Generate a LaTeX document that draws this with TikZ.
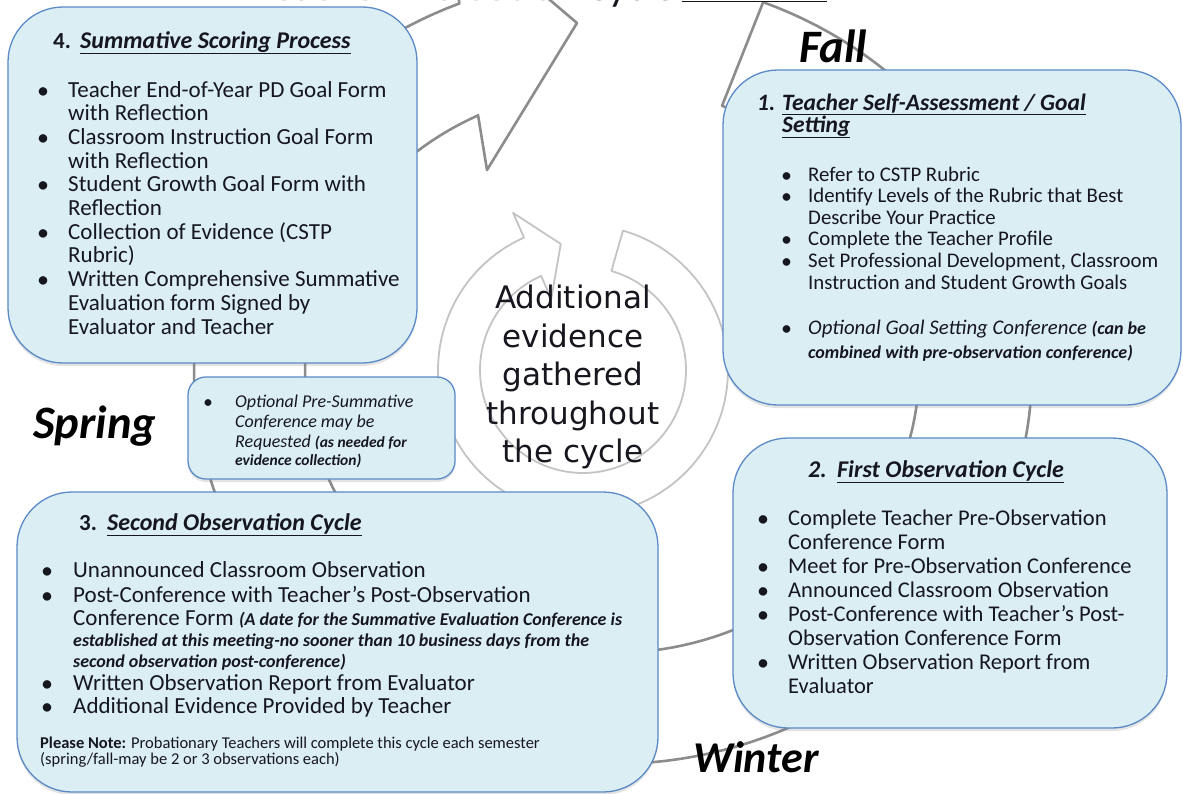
\documentclass[tikz,border=0pt]{standalone}
\usepackage{fontspec}
\setmainfont{Carlito}
\newfontfamily\dejavu{DejaVu Sans}
\usetikzlibrary{shadows}
\definecolor{boxfill}{HTML}{DBEEF4}
\definecolor{boxline}{HTML}{5B8AC6}
\definecolor{bandline}{HTML}{8C8C8C}
\definecolor{ringline}{HTML}{C4C4C4}
\definecolor{txt}{HTML}{16161E}
\newcommand\smbi[1]{{\fontsize{18}{18}\selectfont\bfseries\itshape #1}}
\newcommand\smbs[1]{{\fontsize{15.5}{15.5}\selectfont\bfseries\itshape #1}}
\tikzset{
  box/.style={draw=boxline, line width=1.3pt, fill=boxfill, inner sep=0pt,
    drop shadow={opacity=0.22, shadow xshift=0pt, shadow yshift=-3pt}},
  band/.style={draw=bandline, line width=2.6pt, fill=white, line join=round},
  ring/.style={draw=ringline, line width=1.8pt, fill=white, line join=round},
  tx/.style={anchor=base west, inner sep=0pt, text=txt},
  f23/.style={tx, font=\fontsize{23}{23}\selectfont},
  f22/.style={tx, font=\fontsize{22.5}{22.5}\selectfont},
  f19/.style={tx, font=\fontsize{20.8}{20.8}\selectfont},
  fi17/.style={tx, font=\fontsize{18}{18}\selectfont\itshape},
  fnote/.style={tx, font=\fontsize{16.5}{16.5}\selectfont},
  ttl/.style={tx, font=\fontsize{24}{24}\selectfont\bfseries\itshape},
  num/.style={tx, font=\fontsize{23}{23}\selectfont\bfseries},
  bul/.style={tx, font=\fontsize{20}{20}\selectfont\bfseries},
  season/.style={anchor=base west, inner sep=0pt, text=black, font=\fontsize{46.5}{46.5}\selectfont\bfseries\itshape},
}
\begin{document}
\begin{tikzpicture}[x=1pt,y=-1pt]
\useasboundingbox (0,0) rectangle (1183,793);
\fill[white] (0,0) rectangle (1183,793);

% big circular band arrow
\draw[band] plot[domain=-69:248.5, samples=160, variable=\t] ({613+419*cos(\t)},{370+394*sin(\t)})
  -- (444,-90) -- (577,23) -- (487,170) -- (478,115)
  -- plot[domain=0:313, samples=160, variable=\t] ({612+307*cos(244-\t)},{370+283*sin(244-\t)}) -- cycle;

% central ring arrow
\draw[ring] plot[domain=-74:246, samples=120, variable=\t] ({583+145*cos(\t)},{370+145*sin(\t)})
  -- ({583+172*cos(246)},{370+172*sin(246)})
  -- ({583+128*cos(260)},{370+128*sin(260)})
  -- ({583+78*cos(246)},{370+78*sin(246)})
  -- plot[domain=0:320, samples=120, variable=\t] ({583+103*cos(246-\t)},{370+103*sin(246-\t)}) -- cycle;

% title (cut off at top)
\node[anchor=base west, inner sep=0pt, font=\fontsize{42}{42}\selectfont] (title) at (257,0)
  {\textcolor{gray}{Teacher Evaluation} \textcolor{txt}{Cycle}\hspace{6pt}\textcolor{txt}{\underline{\hspace{145pt}}}};

% boxes
\node[box, rounded corners=55pt, minimum width=409pt, minimum height=356pt] (b4) at (212.5,185) {};
\node[box, rounded corners=55pt, minimum width=458pt, minimum height=335pt] (b1) at (952,237.5) {};
\node[box, rounded corners=18pt, minimum width=267pt, minimum height=102pt] (bs) at (321.5,428) {};
\node[box, rounded corners=55pt, minimum width=434pt, minimum height=290pt] (b2) at (950,583) {};
\node[box, rounded corners=55pt, minimum width=641pt, minimum height=300pt] (b3) at (337.5,642) {};

% center text
\node[align=center, inner sep=0pt, text=txt, font=\dejavu\fontsize{31}{38.5}\selectfont] (center) at (573,377)
  {Additional\\evidence\\gathered\\throughout\\the cycle};

% seasons
\node[season] (fall) at (799,62) {Fall};
\node[season] (spring) at (33,438) {Spring};
\node[season, font=\fontsize{44}{44}\selectfont\bfseries\itshape] (winter) at (693,772) {Winter};

% box 4
\node[num] (b4n) at (53,48) {4.};
\node[ttl] (b4t) at (80,48) {\underline{Summative Scoring Process}};
\node[bul] (b4d1) at (38,97) {•};
\node[bul] (b4d2) at (38,144.4) {•};
\node[bul] (b4d3) at (38,191.8) {•};
\node[bul] (b4d4) at (38,239.2) {•};
\node[bul] (b4d5) at (38,286.6) {•};
\node[f23] (b4l1) at (68,97) {Teacher End-of-Year PD Goal Form};
\node[f23] (b4l2) at (68,120.7) {with Reflection};
\node[f23] (b4l3) at (68,144.4) {Classroom Instruction Goal Form};
\node[f23] (b4l4) at (68,168.1) {with Reflection};
\node[f23] (b4l5) at (68,191.8) {Student Growth Goal Form with};
\node[f23] (b4l6) at (68,215.5) {Reflection};
\node[f23] (b4l7) at (68,239.2) {Collection of Evidence (CSTP};
\node[f23] (b4l8) at (68,262.9) {Rubric)};
\node[f23] (b4l9) at (68,286.6) {Written Comprehensive Summative};
\node[f23] (b4l10) at (68,310.3) {Evaluation form Signed by};
\node[f23] (b4l11) at (68,334) {Evaluator and Teacher};

% box 1
\node[num, font=\fontsize{23.5}{23.5}\selectfont\bfseries\itshape] (b1n) at (757,110) {1.};
\node[ttl, font=\fontsize{23.5}{23.5}\selectfont\bfseries\itshape] (b1t) at (782,110) {\underline{Teacher Self-Assessment / Goal}};
\node[ttl, font=\fontsize{23.5}{23.5}\selectfont\bfseries\itshape] (b1t2) at (782,132) {\underline{Setting}};
\node[bul, font=\fontsize{18}{18}\selectfont\bfseries] (b1d1) at (782,181) {•};
\node[bul, font=\fontsize{18}{18}\selectfont\bfseries] (b1d2) at (782,202.6) {•};
\node[bul, font=\fontsize{18}{18}\selectfont\bfseries] (b1d3) at (782,245.8) {•};
\node[bul, font=\fontsize{18}{18}\selectfont\bfseries] (b1d4) at (782,267.4) {•};
\node[bul, font=\fontsize{18}{18}\selectfont\bfseries] (b1d5) at (782,334) {•};
\node[f19] (b1l1) at (808,181) {Refer to CSTP Rubric};
\node[f19] (b1l2) at (808,202.6) {Identify Levels of the Rubric that Best};
\node[f19] (b1l3) at (808,224.2) {Describe Your Practice};
\node[f19] (b1l4) at (808,245.8) {Complete the Teacher Profile};
\node[f19] (b1l5) at (808,267.4) {Set Professional Development, Classroom};
\node[f19] (b1l6) at (808,289) {Instruction and Student Growth Goals};
\node[f19] (b1l7) at (808,334) {\textit{Optional Goal Setting Conference} \smbi{(can be}};
\node[f19] (b1l8) at (808,358) {\smbi{combined with pre-observation conference)}};

% spring box
\node[bul, font=\fontsize{16}{16}\selectfont\bfseries] (bsd1) at (204,407) {•};
\node[fi17] (bsl1) at (235,407) {Optional Pre-Summative};
\node[fi17] (bsl2) at (235,427) {Conference may be};
\node[fi17] (bsl3) at (235,447) {Requested \smbs{(as needed for}};
\node[fi17] (bsl4) at (235,465) {\smbs{evidence collection)}};

% box 2
\node[num, font=\fontsize{24}{24}\selectfont\bfseries\itshape] (b2n) at (808,477) {2.};
\node[ttl] (b2t) at (837,477) {\underline{First Observation Cycle}};
\node[bul] (b2d1) at (758,525) {•};
\node[bul] (b2d2) at (758,573) {•};
\node[bul] (b2d3) at (758,597) {•};
\node[bul] (b2d4) at (758,621) {•};
\node[bul] (b2d5) at (758,669) {•};
\node[f22] (b2l1) at (788,525) {Complete Teacher Pre-Observation};
\node[f22] (b2l2) at (788,549) {Conference Form};
\node[f22] (b2l3) at (788,573) {Meet for Pre-Observation Conference};
\node[f22] (b2l4) at (788,597) {Announced Classroom Observation};
\node[f22] (b2l5) at (788,621) {Post-Conference with Teacher's Post-};
\node[f22] (b2l6) at (788,645) {Observation Conference Form};
\node[f22] (b2l7) at (788,669) {Written Observation Report from};
\node[f22] (b2l8) at (788,693) {Evaluator};

% box 3
\node[num] (b3n) at (79,530) {3.};
\node[ttl] (b3t) at (107,530) {\underline{Second Observation Cycle}};
\node[bul] (b3d1) at (42,577) {•};
\node[bul] (b3d2) at (42,602) {•};
\node[bul] (b3d3) at (42,690) {•};
\node[bul] (b3d4) at (42,713) {•};
\node[f23] (b3l1) at (73,577) {Unannounced Classroom Observation};
\node[f23] (b3l2) at (73,602) {Post-Conference with Teacher's Post-Observation};
\node[f23] (b3l3) at (73,625) {Conference Form \smbi{(A date for the Summative Evaluation Conference is}};
\node[f23] (b3l4) at (73,646) {\smbi{established at this meeting-no sooner than 10 business days from the}};
\node[f23] (b3l5) at (73,667) {\smbi{second observation post-conference)}};
\node[f23] (b3l6) at (73,690) {Written Observation Report from Evaluator};
\node[f23] (b3l7) at (73,713) {Additional Evidence Provided by Teacher};
\node[fnote] (b3n1) at (40,748) {\textbf{Please Note:} Probationary Teachers will complete this cycle each semester};
\node[fnote] (b3n2) at (40,764) {(spring/fall-may be 2 or 3 observations each)};
\end{tikzpicture}
\end{document}
